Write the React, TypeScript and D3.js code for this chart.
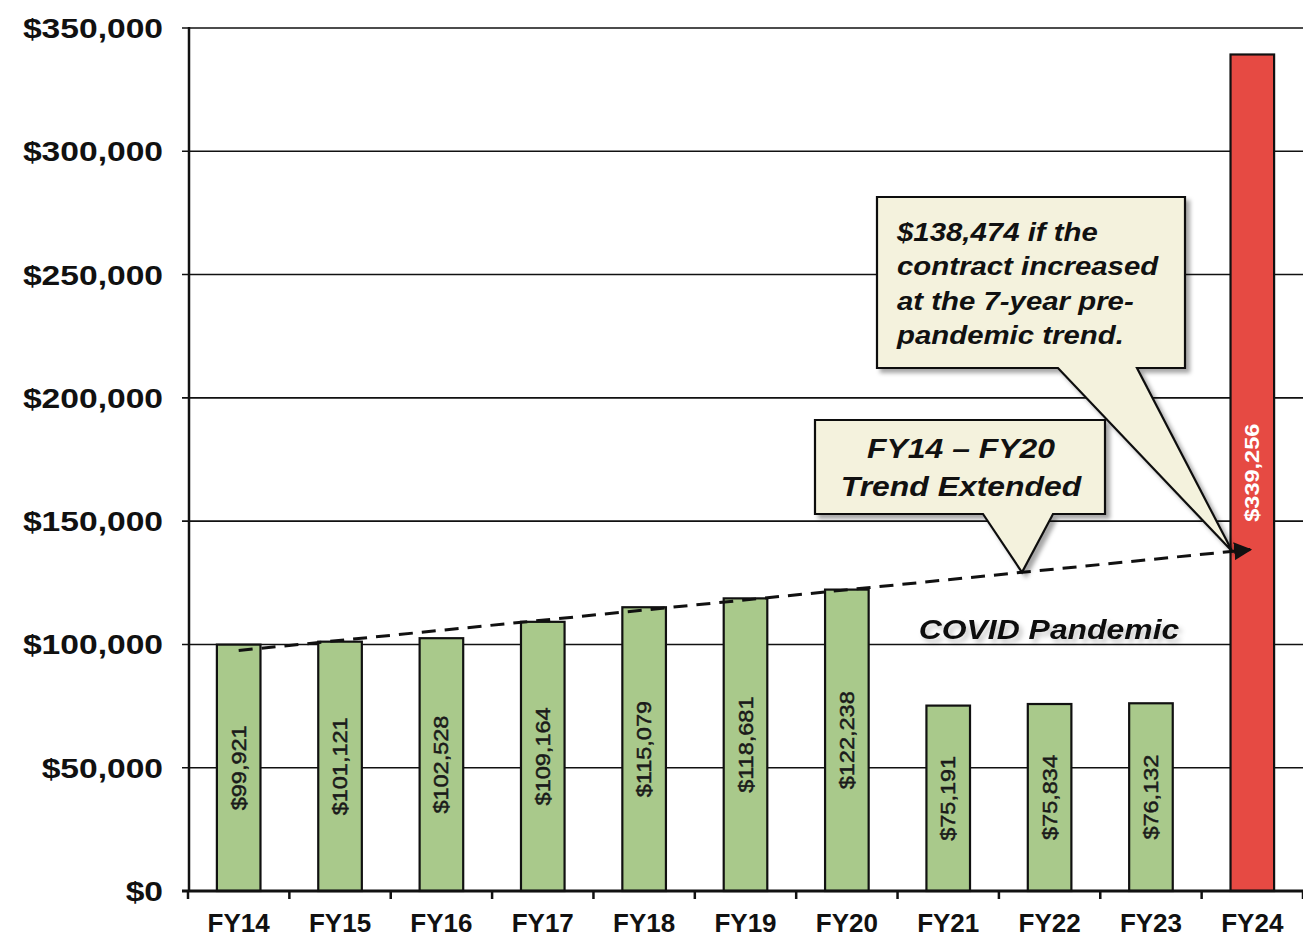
import React from "react";
import * as d3 from "d3";

// fiscal years and contract cost
const years = ["FY14", "FY15", "FY16", "FY17", "FY18", "FY19", "FY20", "FY21", "FY22", "FY23", "FY24"];
const costs = [99921, 101121, 102528, 109164, 115079, 118681, 122238, 75191, 75834, 76132, 339256];
const highlightYear = "FY24";

// y axis ticks
const yTicks = [0, 50000, 100000, 150000, 200000, 250000, 300000, 350000];

// FY14-FY20 trend extended (start value at FY14, end value at FY24)
const trendYears = ["FY14", "FY24"];
const trendValues = [97538, 138474];

const calloutTrend = ["FY14 \u2013 FY20", "Trend Extended"];
const calloutValue = ["$138,474 if the", "contract increased", "at the 7-year pre-", "pandemic trend."];
const covidLabel = "COVID Pandemic";

const W = 1303;
const H = 943;
const FONT = "'Liberation Sans', Arial, sans-serif";

export default function App() {
  const x = d3.scaleBand().domain(years).range([188, 1303]).paddingInner(0.57).paddingOuter(0.285);
  const y = d3.scaleLinear().domain([0, 350000]).range([891, 28]);
  const money = (v: number) => "$" + d3.format(",")(v);

  const cx = (yr: string) => (x(yr) as number) + x.bandwidth() / 2;
  const step = x.step();

  // trend line in pixels
  const tx0 = cx(trendYears[0]);
  const tx1 = cx(trendYears[1]) - 2;
  const ty0 = y(trendValues[0]);
  const ty1 = y(trendValues[1]);
  const trendAt = (px: number) => ty0 + ((px - tx0) / (tx1 - tx0)) * (ty1 - ty0);

  // callout 1: box with pointer down to trend line
  const b1 = { l: 815, t: 420, r: 1105, b: 514 };
  const tip1x = 1022;
  const tip1y = trendAt(tip1x);
  const c1 = `M${b1.l},${b1.t}H${b1.r}V${b1.b}H1053L${tip1x},${tip1y}L983,${b1.b}H${b1.l}Z`;

  // callout 2: box with pointer to the FY24 trend value
  const b2 = { l: 877, t: 197, r: 1185, b: 368 };
  const tip2x = tx1 - 18;
  const tip2y = ty1 + 2;
  const c2 = `M${b2.l},${b2.t}H${b2.r}V${b2.b}H1137L${tip2x},${tip2y}L1058,${b2.b}H${b2.l}Z`;

  return (
    <svg width={W} height={H} style={{ position: "absolute", left: 0, top: 0, background: "#fff" }} fontFamily={FONT}>
      <defs>
        <filter id="shadow" x="-10%" y="-10%" width="130%" height="130%">
          <feDropShadow dx="4" dy="4" stdDeviation="2" floodColor="#000" floodOpacity="0.35" />
        </filter>
        <filter id="tshadow" x="-5%" y="-30%" width="115%" height="170%">
          <feDropShadow dx="3" dy="4" stdDeviation="2.5" floodColor="#000" floodOpacity="0.22" />
        </filter>
        <marker id="arrow" viewBox="0 0 10 10" refX="9" refY="5" markerWidth="6" markerHeight="6" orient="auto" markerUnits="strokeWidth">
          <path d="M0,0L10,5L0,10Z" fill="#111" />
        </marker>
      </defs>

      {/* gridlines */}
      {yTicks.map((t) => (
        <line key={t} x1={182} x2={W} y1={y(t)} y2={y(t)} stroke="#111" strokeWidth={1.6} />
      ))}

      {/* y tick labels */}
      {yTicks.map((t) => (
        <text
          key={"l" + t}
          transform={`translate(163,${y(t) + 10}) scale(1.2,1)`}
          textAnchor="end"
          fontSize={28}
          fontWeight="bold"
          fill="#111"
        >
          {money(t)}
        </text>
      ))}

      {/* bars */}
      {years.map((yr, i) => (
        <rect
          key={yr}
          x={x(yr)}
          y={y(costs[i])}
          width={x.bandwidth()}
          height={y(0) - y(costs[i])}
          fill={yr === highlightYear ? "#e64a43" : "#a9c98b"}
          stroke="#111"
          strokeWidth={2.2}
        />
      ))}

      {/* bar value labels */}
      {years.map((yr, i) => {
        const hi = yr === highlightYear;
        return (
          <text
            key={"v" + yr}
            transform={`translate(${cx(yr) + 7},${(y(costs[i]) + y(0)) / 2}) rotate(-90) scale(1.12,1)`}
            textAnchor="middle"
            fontSize={21}
            fill={hi ? "#fff" : "#1a1a1a"}
            stroke={hi ? "none" : "#1a1a1a"}
            strokeWidth={0.5}
            fontWeight={hi ? "bold" : "normal"}
          >
            {money(costs[i])}
          </text>
        );
      })}

      {/* axes */}
      <line x1={189} x2={189} y1={27} y2={892} stroke="#111" strokeWidth={2.5} />
      <line x1={182} x2={W} y1={891} y2={891} stroke="#111" strokeWidth={3} />
      {d3.range(years.length + 1).map((i) => (
        <line key={"tk" + i} x1={188 + i * step} x2={188 + i * step} y1={891} y2={899} stroke="#111" strokeWidth={2.5} />
      ))}
      {years.map((yr) => (
        <text key={"x" + yr} x={cx(yr)} y={932} textAnchor="middle" fontSize={26} fontWeight="bold" fill="#111">
          {yr}
        </text>
      ))}

      {/* trend line */}
      <line
        x1={tx0}
        y1={ty0}
        x2={tx1}
        y2={ty1}
        stroke="#111"
        strokeWidth={3}
        strokeDasharray="14 9"
        markerEnd="url(#arrow)"
      />

      {/* COVID label */}
      <text
        transform="translate(1049,639) scale(1.14,1)"
        textAnchor="middle"
        fontSize={28}
        fontWeight="bold"
        fontStyle="italic"
        fill="#111"
        filter="url(#tshadow)"
      >
        {covidLabel}
      </text>

      {/* callout: trend extended */}
      <path d={c1} fill="#f4f2dd" stroke="#111" strokeWidth={2.2} filter="url(#shadow)" />
      {calloutTrend.map((s, i) => (
        <text
          key={"c1" + i}
          transform={`translate(961,${458 + i * 38}) scale(1.14,1)`}
          textAnchor="middle"
          fontSize={28}
          fontWeight="bold"
          fontStyle="italic"
          fill="#111"
        >
          {s}
        </text>
      ))}

      {/* callout: projected value */}
      <path d={c2} fill="#f4f2dd" stroke="#111" strokeWidth={2.2} filter="url(#shadow)" />
      {calloutValue.map((s, i) => (
        <text
          key={"c2" + i}
          transform={`translate(897,${241 + i * 34.3}) scale(1.13,1)`}
          fontSize={26}
          fontWeight="bold"
          fontStyle="italic"
          fill="#111"
        >
          {s}
        </text>
      ))}
    </svg>
  );
}
